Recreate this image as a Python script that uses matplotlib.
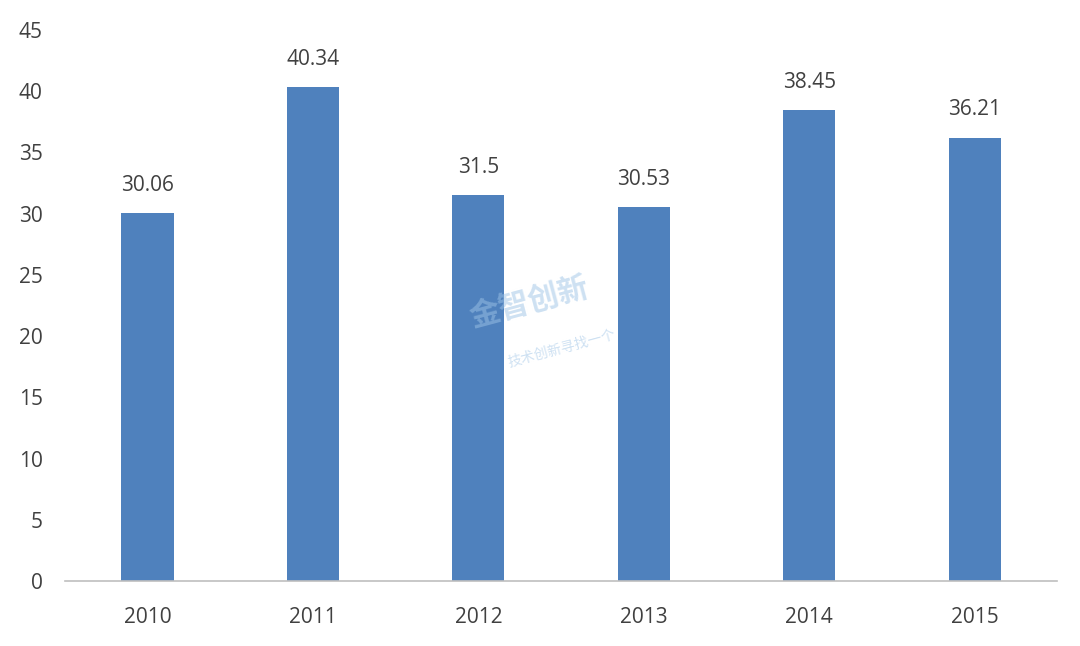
import matplotlib
matplotlib.use("Agg")
import matplotlib.pyplot as plt

years = ["2010", "2011", "2012", "2013", "2014", "2015"]
values = [30.06, 40.34, 31.5, 30.53, 38.45, 36.21]
value_labels = ["30.06", "40.34", "31.5", "30.53", "38.45", "36.21"]
yticks = [0, 5, 10, 15, 20, 25, 30, 35, 40, 45]

plt.rcParams['font.family'] = ['Open Sans', 'Noto Sans CJK SC', 'DejaVu Sans']

fig = plt.figure(figsize=(10.8, 6.46), dpi=100)
ax = fig.add_axes([0.060, 0.1006, 0.919, 0.853])

x = range(len(years))
bars = ax.bar(x, values, width=0.315, color="#4F81BD")

for b, lab in zip(bars, value_labels):
    ax.text(b.get_x() + b.get_width() / 2, b.get_height() + 1.4, lab,
            ha="center", va="bottom", fontsize=15, color="#404040")

ax.set_xlim(-0.5, len(years) - 0.5)
ax.set_ylim(0, 45)
ax.set_yticks(yticks)
ax.set_xticks(list(x))
ax.set_xticklabels(years)
ax.tick_params(axis="both", length=0, labelsize=15, colors="#404040")
ax.tick_params(axis="x", pad=19)
ax.tick_params(axis="y", pad=16)
for lab in ax.get_yticklabels():
    lab.set_horizontalalignment("right")

for s in ["top", "right", "left"]:
    ax.spines[s].set_visible(False)
ax.spines["bottom"].set_color("#BFBFBF")
ax.spines["bottom"].set_linewidth(1.2)

# faint watermark
fig.text(0.49, 0.53, "金智创新", fontsize=22, color="#9DC3E6", alpha=0.5,
         rotation=15, ha="center", va="center", fontweight="bold")
fig.text(0.52, 0.46, "技术创新寻找一个", fontsize=10, color="#9DC3E6", alpha=0.5,
         rotation=15, ha="center", va="center")

fig.savefig("out.png", dpi=100)
